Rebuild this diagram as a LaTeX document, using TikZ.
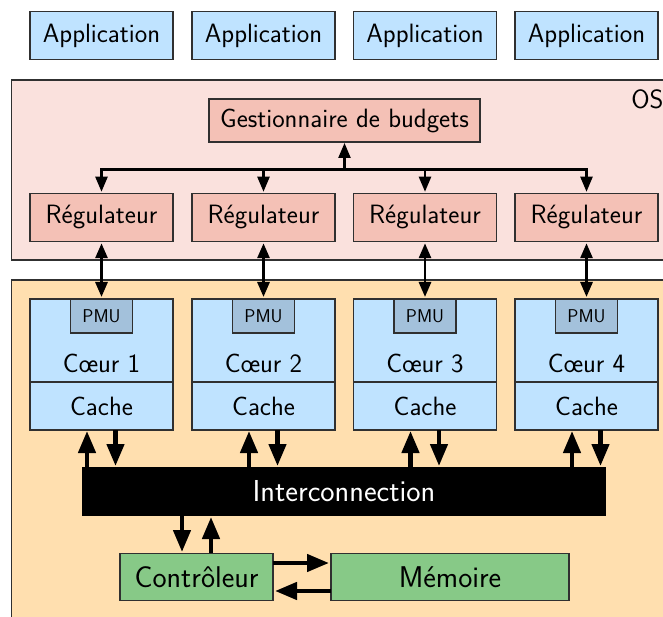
\documentclass[tikz,border=0pt]{standalone}
\usepackage{fontspec}
\usetikzlibrary{arrows.meta}
\definecolor{appblue}{HTML}{BFE3FF}
\definecolor{ospink}{HTML}{FAE1DD}
\definecolor{salmon}{HTML}{F4C1B6}
\definecolor{hworange}{HTML}{FFDFAF}
\definecolor{pmublue}{HTML}{A3C1DB}
\definecolor{memgreen}{HTML}{87C987}
\definecolor{edge}{HTML}{303030}
\tikzset{
  x=1pt,y=-1pt,
  every node/.style={font=\sffamily\fontsize{26.5}{30}\selectfont,inner sep=0pt,outer sep=0pt,text=black},
  box/.style={draw=edge,line width=1.1pt,minimum width=143pt,minimum height=47.5pt},
  appbox/.style={box,fill=appblue},
  regbox/.style={box,fill=salmon},
  corebox/.style={box,fill=appblue,minimum height=83pt},
  cachebox/.style={box,fill=appblue,minimum height=48pt},
  pmubox/.style={draw=edge,line width=1.1pt,fill=pmublue,minimum width=62pt,minimum height=34pt,font=\sffamily\fontsize{18.5}{21}\selectfont},
  greenbox/.style={box,fill=memgreen,font=\sffamily\fontsize{30}{34}\selectfont},
  thinarrow/.style={line width=2.9pt,{Triangle[width=12pt,length=15pt]}-{Triangle[width=12pt,length=15pt]}},
  busline/.style={line width=2.3pt},
  thick arrow/.style={line width=4.4pt,-{Triangle[width=17pt,length=22pt]}},
}
\begin{document}
\begin{tikzpicture}
\useasboundingbox (0,0) rectangle (663,617);
\clip (0,0) rectangle (663,617);
\node[draw=edge,line width=1.1pt,fill=ospink,anchor=north west,minimum width=680pt,minimum height=180pt] (osbg) at (11.5,80) {};
\node[draw=edge,line width=1.1pt,fill=hworange,anchor=north west,minimum width=680pt,minimum height=360pt] (hwbg) at (11.5,280) {};
\node[anchor=north east] (oslabel) at (663.5,90) {OS};
\foreach \i/\x in {1/101.5,2/263.5,3/425,4/586.5}{
  \node[appbox] (app\i) at (\x,35.5) {Application};
  \node[regbox] (reg\i) at (\x,217.5) {Régulateur};
  \node[corebox,anchor=north] (core\i) at (\x,299) {};
  \node[anchor=base] (corelabel\i) at (\x,372) {Cœur \i};
  \node[cachebox,anchor=north] (cache\i) at (\x,382) {Cache};
  \node[pmubox,anchor=north] (pmu\i) at (\x,299) {PMU};
}
\node[regbox,minimum width=271pt,minimum height=43pt] (gest) at (344.5,120.5) {Gestionnaire de budgets};
\node[fill=black,text=white,minimum width=524pt,minimum height=49pt,font=\sffamily\fontsize{30.3}{34}\selectfont] (inter) at (344,491.5) {Interconnection};
\node[greenbox,minimum width=153pt] (ctrl) at (196.5,577) {Contrôleur};
\node[greenbox,minimum width=238pt] (mem) at (450,577) {Mémoire};
\coordinate (bus) at (344.5,169.5);
\foreach \i in {1,2,3,4}{
  \draw[busline,-{Triangle[width=12pt,length=15pt]},shorten >=2pt] (bus) -| (reg\i.north);
  \draw[thinarrow,shorten <=2pt,shorten >=2pt] (reg\i.south) -- (pmu\i.north);
}
\draw[line width=3pt] (bus) -- ++(-81,0) -- ++(162,0);
\draw[busline,-{Triangle[width=12pt,length=15pt]},shorten >=1pt] (bus) -- (gest.south);
\foreach \i in {1,2,3,4}{
  \draw[thick arrow,shorten >=1pt] ([xshift=-14.5pt]cache\i.south |- inter.north) -- ([xshift=-14.5pt]cache\i.south);
  \draw[thick arrow,shorten >=1pt] ([xshift=14pt]cache\i.south) -- ([xshift=14pt]cache\i.south |- inter.north);
}
\draw[thick arrow,shorten >=1pt] (182,516) coordinate (idown) -- (182,553);
\draw[thick arrow,shorten >=1pt] (211,553) coordinate (cup) -- (211,516);
\draw[thick arrow,shorten >=2pt] (ctrl.east |- 0,563) -- (mem.west |- 0,563);
\draw[thick arrow,shorten >=2pt] (mem.west |- 0,591) -- (ctrl.east |- 0,591);
\end{tikzpicture}
\end{document}
